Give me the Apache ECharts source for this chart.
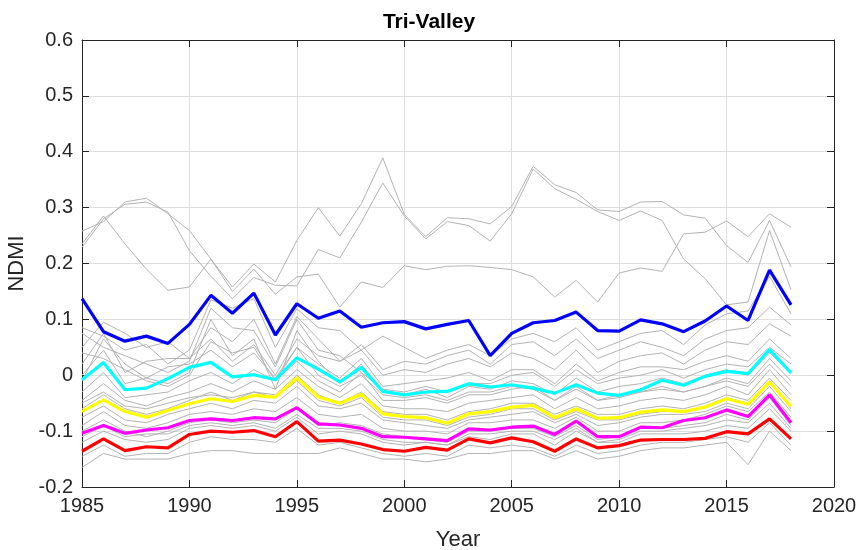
<!DOCTYPE html>
<html>
<head>
<meta charset="utf-8">
<title>Tri-Valley</title>
<script src="https://cdn.jsdelivr.net/npm/echarts@6/dist/echarts.min.js"></script>
<style>
  html, body { margin: 0; padding: 0; background: #fff; }
  #main { width: 858px; height: 550px; }
</style>
</head>
<body>
<div id="main"></div>
<script>
var years = [1985,1986,1987,1988,1989,1990,1991,1992,1993,1994,1995,1996,1997,1998,1999,2000,2001,2002,2003,2004,2005,2006,2007,2008,2009,2010,2011,2012,2013,2014,2015,2016,2017,2018];

// summary lines
var blueVals = [0.137,0.078,0.061,0.070,0.057,0.091,0.143,0.111,0.147,0.072,0.128,0.102,0.115,0.086,0.094,0.096,0.083,0.091,0.098,0.035,0.075,0.094,0.098,0.113,0.080,0.079,0.099,0.092,0.078,0.097,0.124,0.098,0.188,0.126];
var cyanVals = [-0.008,0.023,-0.026,-0.023,-0.006,0.014,0.023,-0.003,0.001,-0.008,0.031,0.011,-0.012,0.014,-0.029,-0.035,-0.030,-0.029,-0.015,-0.021,-0.017,-0.023,-0.032,-0.017,-0.032,-0.036,-0.026,-0.009,-0.018,-0.002,0.007,0.003,0.046,0.004];
var yellowVals = [-0.065,-0.044,-0.065,-0.075,-0.063,-0.051,-0.042,-0.047,-0.036,-0.039,-0.005,-0.039,-0.050,-0.034,-0.069,-0.074,-0.076,-0.086,-0.069,-0.065,-0.057,-0.054,-0.076,-0.060,-0.077,-0.076,-0.066,-0.062,-0.065,-0.057,-0.042,-0.052,-0.012,-0.056];
var magentaVals = [-0.104,-0.090,-0.104,-0.098,-0.094,-0.081,-0.078,-0.081,-0.076,-0.078,-0.058,-0.087,-0.089,-0.095,-0.110,-0.111,-0.114,-0.117,-0.096,-0.098,-0.093,-0.091,-0.106,-0.082,-0.110,-0.110,-0.093,-0.094,-0.081,-0.076,-0.062,-0.074,-0.035,-0.085];
var redVals = [-0.136,-0.114,-0.135,-0.128,-0.130,-0.106,-0.100,-0.102,-0.099,-0.110,-0.083,-0.118,-0.116,-0.123,-0.133,-0.136,-0.129,-0.134,-0.114,-0.121,-0.112,-0.119,-0.136,-0.114,-0.130,-0.126,-0.116,-0.115,-0.115,-0.113,-0.101,-0.105,-0.078,-0.114];

// individual sites (gray)
var gray01 = [0.258,0.275,0.310,0.317,0.289,0.259,0.208,0.158,0.199,0.167,0.241,0.300,0.249,0.307,0.389,0.288,0.248,0.282,0.280,0.271,0.302,0.374,0.341,0.327,0.296,0.293,0.310,0.311,0.287,0.281,0.232,0.202,0.277,0.194];
var gray02 = [0.229,0.280,0.306,0.310,0.292,0.223,0.177,0.137,0.175,0.161,0.160,0.225,0.210,0.274,0.344,0.285,0.244,0.275,0.268,0.240,0.289,0.369,0.334,0.315,0.293,0.277,0.294,0.277,0.208,0.173,0.126,0.131,0.259,0.153];
var gray03 = [0.235,0.285,0.235,0.190,0.152,0.158,0.208,0.150,0.190,0.145,0.176,0.181,0.122,0.167,0.157,0.196,0.189,0.195,0.196,0.193,0.189,0.176,0.140,0.170,0.131,0.183,0.192,0.186,0.253,0.256,0.276,0.248,0.289,0.265];
var gray04 = [0.085,0.070,0.045,0.055,0.020,0.045,0.135,0.120,0.137,0.050,0.119,0.085,0.080,0.045,0.070,0.050,0.030,0.045,0.055,0.035,0.065,0.075,0.060,0.085,0.045,0.060,0.075,0.080,0.055,0.090,0.110,0.115,0.177,0.110];
var gray05 = [0.050,0.095,0.075,0.050,0.060,0.030,0.085,0.060,0.100,0.020,0.105,0.065,0.025,0.055,0.010,0.025,0.020,0.035,0.045,0.020,0.055,0.060,0.035,0.065,0.030,0.045,0.060,0.050,0.035,0.065,0.080,0.085,0.122,0.090];
var gray06 = [0.020,0.075,0.005,0.025,0.030,0.030,0.065,0.025,0.055,0.000,0.065,0.035,0.025,0.045,0.000,0.010,0.005,0.020,0.030,0.015,0.040,0.030,0.010,0.045,0.005,0.025,0.035,0.040,0.020,0.045,0.060,0.055,0.092,0.070];
var gray07 = [0.000,0.045,-0.015,-0.005,0.015,0.020,0.045,0.015,0.040,-0.005,0.050,0.020,-0.005,0.030,-0.020,-0.015,-0.010,-0.005,0.005,-0.010,0.010,0.010,-0.015,0.020,-0.010,0.005,0.015,0.015,0.010,0.025,0.035,0.025,0.065,0.030];
var gray08 = [0.075,0.050,0.035,0.020,0.005,0.025,0.120,0.085,0.080,0.015,0.100,0.045,0.035,0.005,-0.025,-0.030,-0.020,-0.030,-0.015,-0.015,0.000,0.005,-0.020,0.010,-0.015,-0.005,0.000,0.010,-0.005,0.010,0.020,0.015,0.050,0.020];
var gray09 = [-0.010,0.065,0.020,-0.005,-0.015,0.005,0.100,0.035,0.065,-0.025,0.080,0.025,-0.015,0.020,-0.030,-0.035,-0.025,-0.040,-0.020,-0.025,-0.010,-0.015,-0.035,-0.005,-0.030,-0.020,-0.015,-0.005,-0.015,0.000,0.010,0.000,0.040,0.005];
var gray10 = [-0.030,0.005,-0.040,-0.035,-0.030,-0.010,0.005,-0.015,0.010,-0.010,0.025,-0.010,-0.030,0.005,-0.045,-0.045,-0.040,-0.050,-0.035,-0.035,-0.025,-0.020,-0.045,-0.020,-0.045,-0.035,-0.030,-0.020,-0.030,-0.020,-0.005,-0.015,0.030,-0.010];
var gray11 = [-0.045,-0.015,-0.045,-0.055,-0.040,-0.030,-0.015,-0.030,-0.010,-0.025,0.010,-0.020,-0.040,-0.015,-0.055,-0.060,-0.060,-0.065,-0.050,-0.045,-0.040,-0.035,-0.060,-0.040,-0.060,-0.055,-0.045,-0.040,-0.045,-0.035,-0.020,-0.035,0.010,-0.035];
var gray12 = [-0.050,-0.030,-0.055,-0.060,-0.050,-0.040,-0.035,-0.040,-0.030,-0.040,-0.010,-0.045,-0.055,-0.040,-0.075,-0.080,-0.080,-0.090,-0.075,-0.070,-0.060,-0.060,-0.080,-0.065,-0.080,-0.080,-0.070,-0.065,-0.065,-0.055,-0.040,-0.050,-0.010,-0.060];
var gray13 = [-0.060,-0.035,-0.060,-0.070,-0.060,-0.045,-0.030,-0.045,-0.030,-0.035,0.000,-0.035,-0.050,-0.030,-0.065,-0.070,-0.070,-0.080,-0.065,-0.060,-0.050,-0.050,-0.070,-0.055,-0.070,-0.070,-0.060,-0.055,-0.060,-0.050,-0.035,-0.045,-0.005,-0.045];
var gray14 = [-0.075,-0.055,-0.080,-0.085,-0.070,-0.060,-0.050,-0.060,-0.045,-0.050,-0.020,-0.055,-0.060,-0.050,-0.080,-0.085,-0.090,-0.095,-0.080,-0.075,-0.070,-0.065,-0.085,-0.070,-0.090,-0.085,-0.075,-0.070,-0.070,-0.065,-0.050,-0.060,-0.020,-0.065];
var gray15 = [-0.090,-0.065,-0.090,-0.095,-0.085,-0.070,-0.065,-0.070,-0.060,-0.065,-0.040,-0.070,-0.075,-0.070,-0.095,-0.100,-0.100,-0.105,-0.085,-0.085,-0.080,-0.080,-0.095,-0.075,-0.100,-0.100,-0.085,-0.085,-0.080,-0.070,-0.055,-0.065,-0.030,-0.075];
var gray16 = [-0.100,-0.080,-0.100,-0.110,-0.100,-0.085,-0.080,-0.085,-0.080,-0.085,-0.060,-0.090,-0.085,-0.090,-0.105,-0.110,-0.115,-0.120,-0.100,-0.100,-0.095,-0.095,-0.110,-0.090,-0.115,-0.110,-0.095,-0.095,-0.090,-0.085,-0.070,-0.080,-0.040,-0.090];
var gray17 = [-0.120,-0.100,-0.115,-0.120,-0.115,-0.095,-0.090,-0.095,-0.090,-0.100,-0.075,-0.105,-0.100,-0.105,-0.120,-0.125,-0.120,-0.125,-0.110,-0.115,-0.105,-0.105,-0.125,-0.100,-0.120,-0.120,-0.105,-0.105,-0.105,-0.100,-0.090,-0.095,-0.060,-0.100];
var gray18 = [-0.145,-0.125,-0.145,-0.140,-0.140,-0.120,-0.110,-0.115,-0.115,-0.120,-0.095,-0.125,-0.120,-0.130,-0.140,-0.145,-0.140,-0.145,-0.125,-0.130,-0.125,-0.130,-0.145,-0.125,-0.140,-0.135,-0.125,-0.120,-0.120,-0.115,-0.110,-0.120,-0.085,-0.125];
var gray19 = [-0.165,-0.140,-0.150,-0.150,-0.150,-0.140,-0.135,-0.135,-0.140,-0.140,-0.140,-0.140,-0.130,-0.140,-0.150,-0.150,-0.155,-0.150,-0.140,-0.140,-0.135,-0.135,-0.150,-0.135,-0.150,-0.145,-0.135,-0.130,-0.130,-0.125,-0.120,-0.160,-0.100,-0.135];
var gray20 = [0.040,0.030,0.010,-0.010,-0.020,0.000,0.060,0.040,0.050,-0.010,0.050,0.000,-0.020,0.000,-0.035,-0.040,-0.035,-0.045,-0.030,-0.030,-0.020,-0.025,-0.045,-0.025,-0.045,-0.040,-0.030,-0.025,-0.030,-0.020,-0.010,-0.020,0.020,-0.020];
var gray21 = [-0.110,-0.090,-0.110,-0.105,-0.105,-0.090,-0.085,-0.090,-0.085,-0.095,-0.070,-0.095,-0.095,-0.100,-0.115,-0.120,-0.120,-0.125,-0.105,-0.105,-0.100,-0.100,-0.115,-0.095,-0.120,-0.115,-0.100,-0.100,-0.095,-0.090,-0.080,-0.085,-0.050,-0.095];

var grayLines = [gray01,gray02,gray03,gray04,gray05,gray06,gray07,gray08,gray09,gray10,gray11,gray12,gray13,gray14,gray15,gray16,gray17,gray18,gray19,gray20,gray21];
var mainLines = [
    { vals: blueVals, color: '#0000ff' },
    { vals: cyanVals, color: '#00ffff' },
    { vals: yellowVals, color: '#ffff00' },
    { vals: magentaVals, color: '#ff00ff' },
    { vals: redVals, color: '#ff0000' }
];

var xRange = [1985, 2020];
var yRange = [-0.2, 0.6];

function pairs(vals) {
    var out = [];
    for (var i = 0; i < years.length; i++) out.push([years[i], vals[i]]);
    return out;
}

var series = [];
grayLines.forEach(function (g) {
    series.push({
        type: 'line', data: pairs(g), showSymbol: false, silent: true,
        lineStyle: { color: '#b3b3b3', width: 1 }, z: 2
    });
});
mainLines.forEach(function (m) {
    series.push({
        type: 'line', data: pairs(m.vals), showSymbol: false, silent: true,
        lineStyle: { color: m.color, width: 3.2 }, z: 3
    });
});

var axisColor = '#262626';
var font = 'Liberation Sans, Arial, sans-serif';
var chart = echarts.init(document.getElementById('main'));
var option = {
    animation: false,
    backgroundColor: '#fff',
    title: {
        text: 'Tri-Valley', left: 'center', top: 7,
        textStyle: { fontFamily: font, fontSize: 21, fontWeight: 'bold', color: '#000' }
    },
    grid: { left: 82, right: 24, top: 40, bottom: 63, containLabel: false, outerBoundsMode: 'none' },
    xAxis: [
        {
            type: 'value', min: xRange[0], max: xRange[1], interval: 5,
            name: 'Year', nameLocation: 'middle', nameGap: 42,
            nameTextStyle: { fontFamily: font, fontSize: 22, color: axisColor },
            axisLine: { show: true, onZero: false, lineStyle: { color: axisColor, width: 1 } },
            axisTick: { show: true, inside: true, length: 7, lineStyle: { color: axisColor } },
            axisLabel: { fontFamily: font, fontSize: 20, color: axisColor, margin: 9, formatter: function (v) { return String(v); } },
            splitLine: { show: true, lineStyle: { color: '#dfdfdf', width: 1 } }
        },
        {
            type: 'value', position: 'top', min: xRange[0], max: xRange[1], interval: 5,
            axisLine: { show: true, onZero: false, lineStyle: { color: axisColor, width: 1 } },
            axisTick: { show: true, inside: true, length: 7, lineStyle: { color: axisColor } },
            axisLabel: { show: false }, splitLine: { show: false }
        }
    ],
    yAxis: [
        {
            type: 'value', min: yRange[0], max: yRange[1], interval: 0.1,
            name: 'NDMI', nameLocation: 'middle', nameGap: 43, nameRotate: 90,
            nameTextStyle: { fontFamily: font, fontSize: 22, color: axisColor },
            axisLine: { show: true, onZero: false, lineStyle: { color: axisColor, width: 1 } },
            axisTick: { show: true, inside: true, length: 7, lineStyle: { color: axisColor } },
            axisLabel: { fontFamily: font, fontSize: 20, color: axisColor, margin: 9,
                formatter: function (v) { return String(Math.round(v * 10) / 10); } },
            splitLine: { show: true, lineStyle: { color: '#dfdfdf', width: 1 } }
        },
        {
            type: 'value', position: 'right', min: yRange[0], max: yRange[1], interval: 0.1,
            axisLine: { show: true, onZero: false, lineStyle: { color: axisColor, width: 1 } },
            axisTick: { show: true, inside: true, length: 7, lineStyle: { color: axisColor } },
            axisLabel: { show: false }, splitLine: { show: false }
        }
    ],
    series: series
};
chart.setOption(option);
</script>
</body>
</html>
